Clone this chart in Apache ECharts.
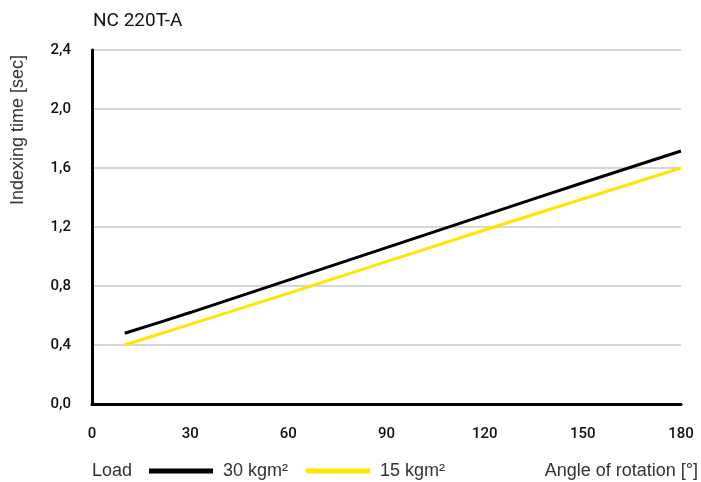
<!DOCTYPE html>
<html><head><meta charset="utf-8">
<script src="https://cdn.jsdelivr.net/npm/echarts@6/dist/echarts.min.js"></script>
<style>html,body{margin:0;padding:0;background:#fff}#c{width:701px;height:482px}</style>
</head><body><div id="c"></div>
<script>
const angles = [10, 30, 60, 90, 120, 150, 180];
const load30 = [0.48, 0.62, 0.84, 1.06, 1.28, 1.50, 1.715];
const load15 = [0.40, 0.54, 0.75, 0.965, 1.18, 1.39, 1.60];
const seriesNames = ['30 kgm²', '15 kgm²'];
const FONT = 'Roboto';
const SANS = '"Liberation Sans", Arial, sans-serif';
const chart = echarts.init(document.getElementById('c'));
chart.setOption({
  animation: false,
  textStyle: {fontFamily: FONT},
  title: {text: 'NC 220T-A', left: 88, top: 7, textStyle: {fontFamily: FONT, fontSize: 19, fontWeight: 'normal', color: '#111'}},
  grid: {left: 92, right: 20, top: 50, bottom: 78, outerBoundsMode: 'none', containLabel: false},
  legend: {
    data: seriesNames, top: 462, left: 149, padding: 0, itemWidth: 64, itemHeight: 5, itemGap: 18, icon: 'rect',
    textStyle: {fontFamily: SANS, fontSize: 18, color: '#333', padding: [0, 0, 0, 5]}
  },
  graphic: [
    {type: 'text', x: 92, y: 471, style: {text: 'Load', font: '18px ' + SANS, fill: '#333', verticalAlign: 'middle'}},
    {type: 'text', x: 698, y: 471, style: {text: 'Angle of rotation [°]', font: '18px ' + SANS, fill: '#333', align: 'right', verticalAlign: 'middle'}},
    {type: 'text', x: 9, y: 130, rotation: Math.PI / 2, style: {text: 'Indexing time [sec]', font: '18px ' + SANS, fill: '#333', align: 'center', verticalAlign: 'top'}}
  ],
  xAxis: {
    type: 'value', min: 0, max: 180, interval: 30,
    axisLine: {show: true, onZero: false, lineStyle: {color: '#000', width: 3}},
    axisTick: {show: false}, splitLine: {show: false},
    axisLabel: {fontFamily: FONT, fontSize: 15, fontWeight: 500, color: '#111', margin: 23}
  },
  yAxis: {
    type: 'value', min: 0, max: 2.4, interval: 0.4,
    axisLine: {show: true, lineStyle: {color: '#000', width: 3}},
    axisTick: {show: false},
    splitLine: {lineStyle: {color: '#c8c8c8', width: 1.5}},
    axisLabel: {fontFamily: FONT, fontSize: 15, fontWeight: 500, color: '#111', margin: 21,
      formatter: v => v.toFixed(1).replace('.', ',')}
  },
  series: [
    {name: seriesNames[0], type: 'line', data: angles.map((a, i) => [a, load30[i]]), smooth: 0.3, symbol: 'none',
      lineStyle: {color: '#000', width: 3}, itemStyle: {color: '#000'}, z: 3},
    {name: seriesNames[1], type: 'line', data: angles.map((a, i) => [a, load15[i]]), symbol: 'none',
      lineStyle: {color: '#FFE500', width: 3}, itemStyle: {color: '#FFE500'}, z: 2}
  ]
});
</script></body></html>
